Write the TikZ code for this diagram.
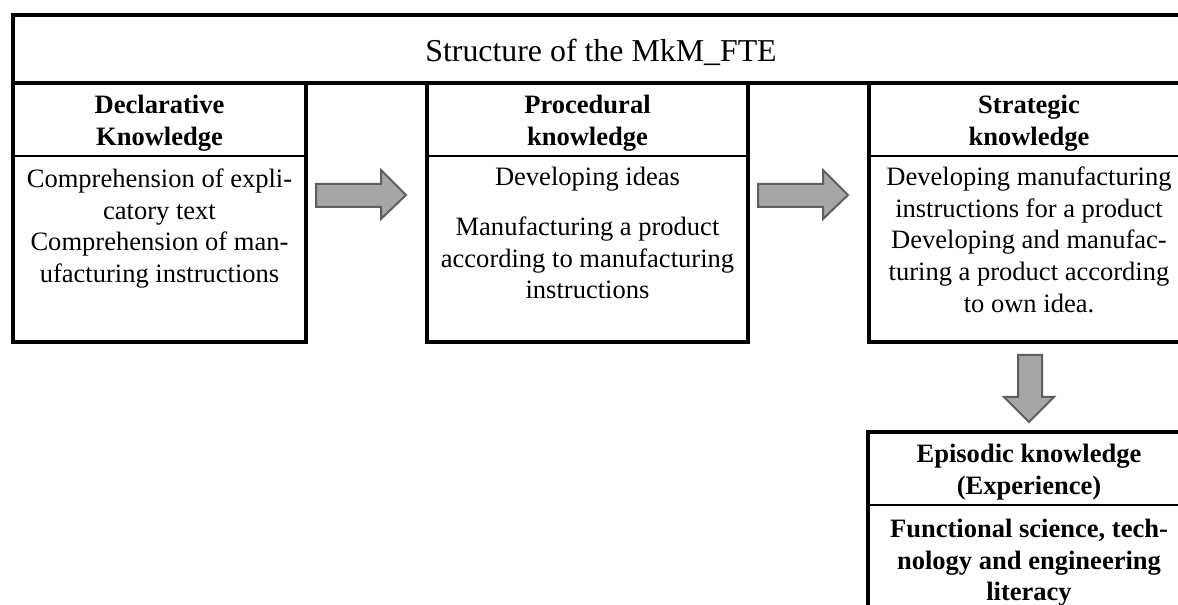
\documentclass[tikz,border=0pt]{standalone}
\usepackage{fontspec}
\setmainfont{Liberation Serif}
\definecolor{arrfill}{HTML}{A6A6A6}
\definecolor{arrline}{HTML}{5E5E5E}
\tikzset{
  frame/.style={line width=2.4pt, draw=black},
  divider/.style={line width=0.8pt, draw=black},
  bodytext/.style={font=\fontsize{19.9}{23.8}\selectfont, align=center, inner sep=0pt, anchor=north},
  headtext/.style={bodytext, font=\fontsize{19.9}{23.8}\selectfont\bfseries},
  titletext/.style={font=\fontsize{23.9}{28}\selectfont, inner sep=0pt, anchor=base},
  blockarrow/.style={fill=arrfill, draw=arrline, line width=1.5pt, line join=miter}
}
\begin{document}
\begin{tikzpicture}[x=0.75pt, y=-0.75pt]
\useasboundingbox (0,0) rectangle (1178,605);
\clip (0,0) rectangle (1178,605);
% boxes
\draw[frame] (13,15) rectangle (1189,83);
\draw[frame] (13,83) rectangle (306,342);
\draw[frame] (427,83) rectangle (748,342);
\draw[frame] (869,83) rectangle (1189,342);
\draw[frame] (868,432) rectangle (1189,700);
\draw[divider] (13,156) -- (306,156);
\draw[divider] (427,156) -- (748,156);
\draw[divider] (869,156) -- (1189,156);
\draw[divider] (868,505) -- (1189,505);
% title
\node[titletext] (title) at (601,62) {Structure of the MkM\_FTE};
% declarative
\node[headtext] (declh) at (159.5,90.8) {\strut Declarative\\Knowledge};
\node[bodytext] (declb) at (159.5,164.8) {\strut Comprehension of expli-\\catory text\\Comprehension of man-\\ufacturing instructions};
% procedural
\node[headtext] (proch) at (587.5,90.8) {\strut Procedural\\knowledge};
\node[bodytext] (procb) at (587.5,162.8) {\strut Developing ideas\\[13.7pt]Manufacturing a product\\according to manufacturing\\instructions};
% strategic
\node[headtext] (strath) at (1029,90.8) {\strut Strategic\\knowledge};
\node[bodytext] (stratb) at (1029,162.8) {\strut Developing manufacturing\\instructions for a product\\Developing and manufac-\\turing a product according\\to own idea.};
% episodic
\node[headtext] (epish) at (1029,439.8) {\strut Episodic knowledge\\(Experience)};
\node[headtext] (episb) at (1029,514.8) {\strut Functional science, tech-\\nology and engineering\\literacy};
% block arrows
\draw[blockarrow] (316,184) -- (381,184) -- (381,170) -- (406,195) -- (381,219) -- (381,207) -- (316,207) -- cycle;
\draw[blockarrow] (758,184) -- (823,184) -- (823,170) -- (848,195) -- (823,219) -- (823,207) -- (758,207) -- cycle;
\draw[blockarrow] (1018,355) -- (1042,355) -- (1042,397) -- (1054,397) -- (1029,422) -- (1004,397) -- (1018,397) -- cycle;
\end{tikzpicture}
\end{document}
